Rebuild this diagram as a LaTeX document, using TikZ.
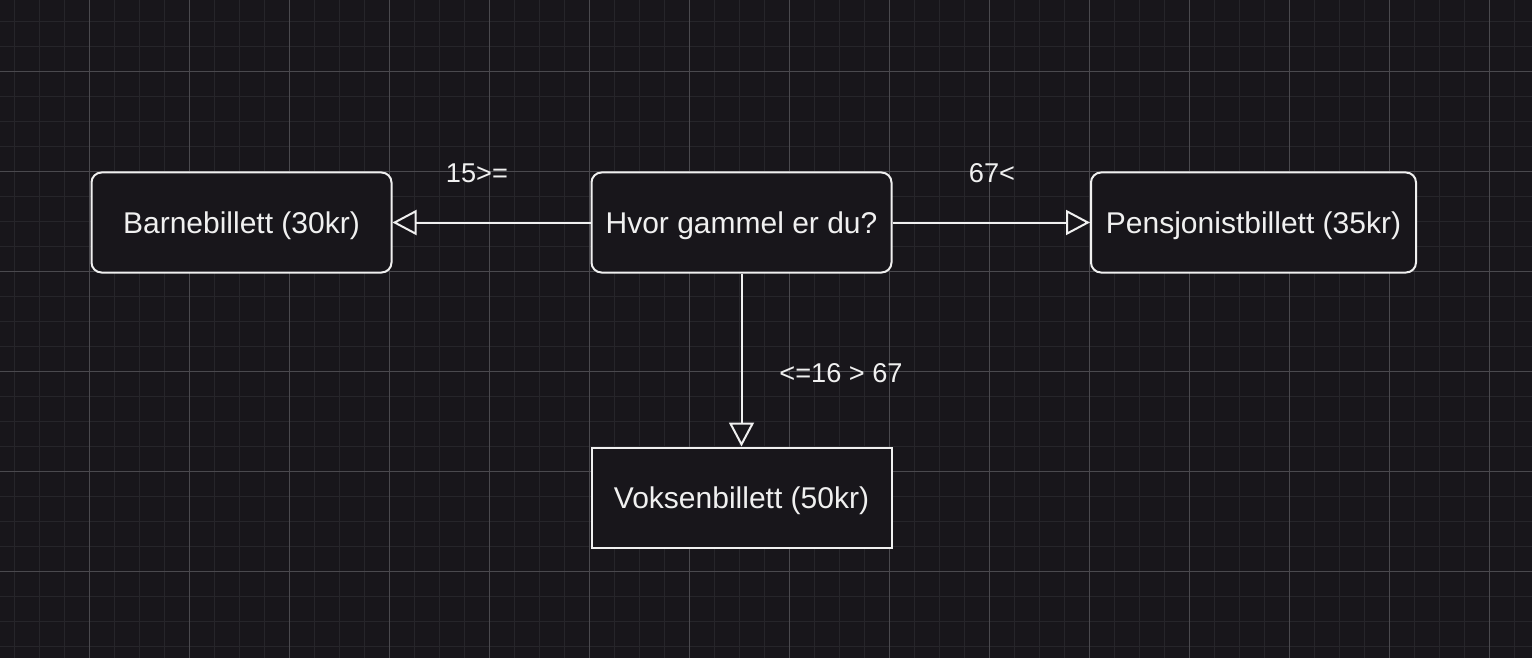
\documentclass[tikz,border=0pt]{standalone}
\usepackage{fontspec}
\setmainfont{Liberation Sans}
\usetikzlibrary{arrows.meta}
\definecolor{canvas}{RGB}{24,22,27}
\definecolor{minorgrid}{RGB}{38,37,42}
\definecolor{majorgrid}{RGB}{74,73,78}
\definecolor{ink}{RGB}{240,240,240}
\begin{document}
\begin{tikzpicture}[x=0.5pt,y=-0.5pt,
  choice/.style={draw=ink, fill=canvas, line width=1pt, text=ink, minimum width=150pt, minimum height=50pt, inner sep=0pt, text height=10.75pt, text depth=0pt, font=\fontsize{15}{18}\selectfont},
  rounded/.style={choice, rounded corners=5pt},
  flow/.style={draw=ink, line width=1pt, -{Triangle[open, length=12pt, width=12.5pt, fill=canvas]}},
  cond/.style={text=ink, inner sep=0pt, text height=9.7pt, text depth=0pt, font=\fontsize{13.6}{16}\selectfont}]
\fill [canvas] (0,0) rectangle (1532,658);
\useasboundingbox (0,0) rectangle (1532,658);
% grid
\foreach \k in {0,...,60} \draw [minorgrid, line width=0.5pt] ({14.5+25*\k},0) -- ({14.5+25*\k},658);
\foreach \k in {0,...,25} \draw [minorgrid, line width=0.5pt] (0,{21.5+25*\k}) -- (1532,{21.5+25*\k});
\foreach \k in {0,...,14} \draw [majorgrid, line width=0.5pt] ({89.5+100*\k},0) -- ({89.5+100*\k},658);
\foreach \k in {0,...,5} \draw [majorgrid, line width=0.5pt] (0,{71.5+100*\k}) -- (1532,{71.5+100*\k});

\node [rounded] (age) at (741.5,222.5) {Hvor gammel er du?};
\node [rounded] (child) at (241.5,222.5) {Barnebillett (30kr)};
\node [rounded, minimum width=162.5pt] (senior) at (1253.5,222.5) {Pensjonistbillett (35kr)};
\node [choice] (adult) at (741.5,497.5) {Voksenbillett (50kr)};

\draw [flow] (age) -- (child);
\draw [flow] (age) -- (senior);
\draw [flow] (age) -- (adult);

\node [cond] (childcond) at (477,172.5) {15>=};
\node [cond] (seniorcond) at (992,172.5) {67<};
\node [cond] (adultcond) at (841,372.5) {<=16 > 67};
\end{tikzpicture}
\end{document}
